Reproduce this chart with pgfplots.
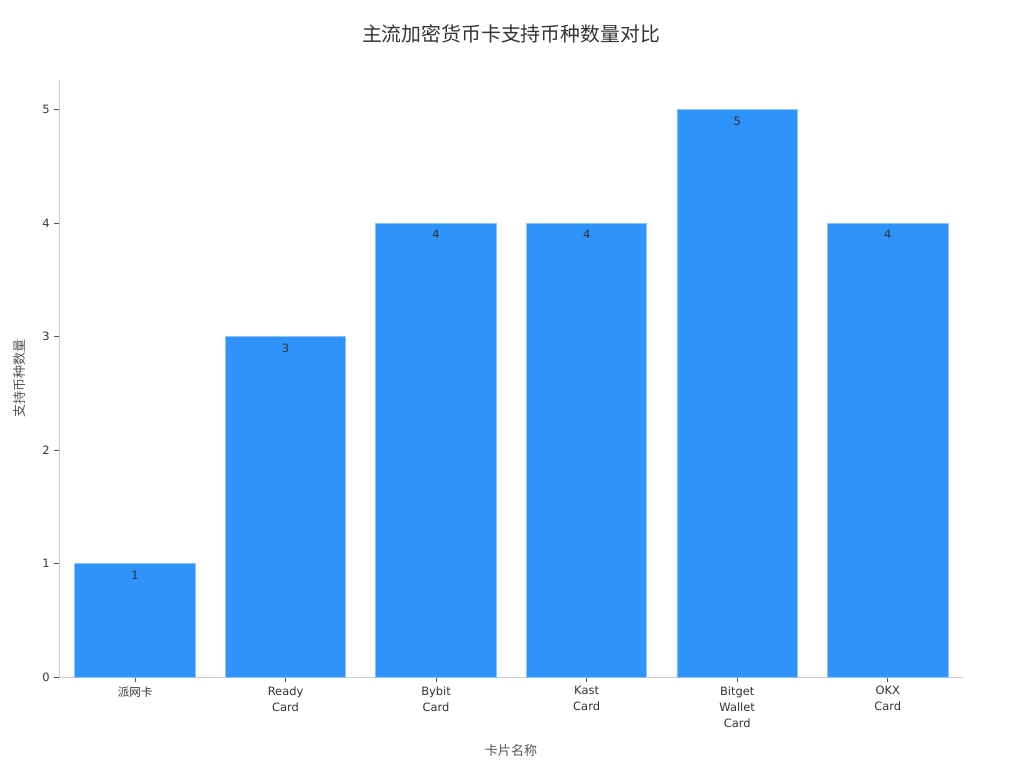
\documentclass[border=0pt]{standalone}
\usepackage{fontspec}
\setmainfont{DejaVu Sans}
\newfontfamily\cjk{Noto Sans CJK SC}
\usepackage{pgfplots}
\pgfplotsset{compat=1.18}
\definecolor{barblue}{HTML}{2E93FA}
\definecolor{baredge}{HTML}{8CC4FB}
\definecolor{axgray}{HTML}{CCCCCC}
\definecolor{txt}{HTML}{333333}
\definecolor{lbl}{HTML}{555555}
\begin{document}
\begin{tikzpicture}
\useasboundingbox (-44.25pt,-68.25pt) rectangle (723.75pt,507.75pt);
\begin{axis}[
    at={(0,0)}, anchor=south west,
    scale only axis,
    width=678pt, height=447.75pt,
    xmin=-0.505, xmax=5.5,
    ymin=0, ymax=5.26,
    axis x line*=bottom, axis y line*=left,
    axis line style={axgray, line width=0.6pt},
    xtick=data,
    xticklabels={{\cjk 派网卡},{Ready\\Card},{Bybit\\Card},{Kast\\Card},{Bitget\\Wallet\\Card},{OKX\\Card}},
    xticklabel style={align=center, font=\fontsize{8.6pt}{12pt}\selectfont, text=txt},
    ytick={0,1,2,3,4,5},
    yticklabel style={font=\fontsize{8.6pt}{10pt}\selectfont, text=txt},
    /pgf/number format/assume math mode=true,
    tick align=outside,
    major tick length=3.5pt,
    tick style={lbl, line width=0.6pt},
    xlabel={\cjk 卡片名称},
    ylabel={\cjk 支持币种数量},
    xlabel style={font=\fontsize{9.8pt}{12pt}\selectfont, text=lbl, at={(axis description cs:0.5,0)}, anchor=center, yshift=-55pt},
    ylabel style={font=\fontsize{9.8pt}{12pt}\selectfont, text=lbl, at={(axis description cs:-0.0431,0.5)}, anchor=center},
    title={\cjk 主流加密货币卡支持币种数量对比},
    title style={font=\fontsize{14.9pt}{17pt}\selectfont, text=txt, at={(axis description cs:0.5,1)}, anchor=center, yshift=28.75pt},
    ybar, bar width=0.8,
    bar shift=0pt,
    nodes near coords,
    nodes near coords style={anchor=north, yshift=-2pt, font=\fontsize{8.6pt}{10pt}\selectfont, text=txt},
]
\addplot[fill=barblue, draw=baredge, line width=0.6pt] coordinates {(0,1) (1,3) (2,4) (3,4) (4,5) (5,4)};
\end{axis}
\end{tikzpicture}
\end{document}
